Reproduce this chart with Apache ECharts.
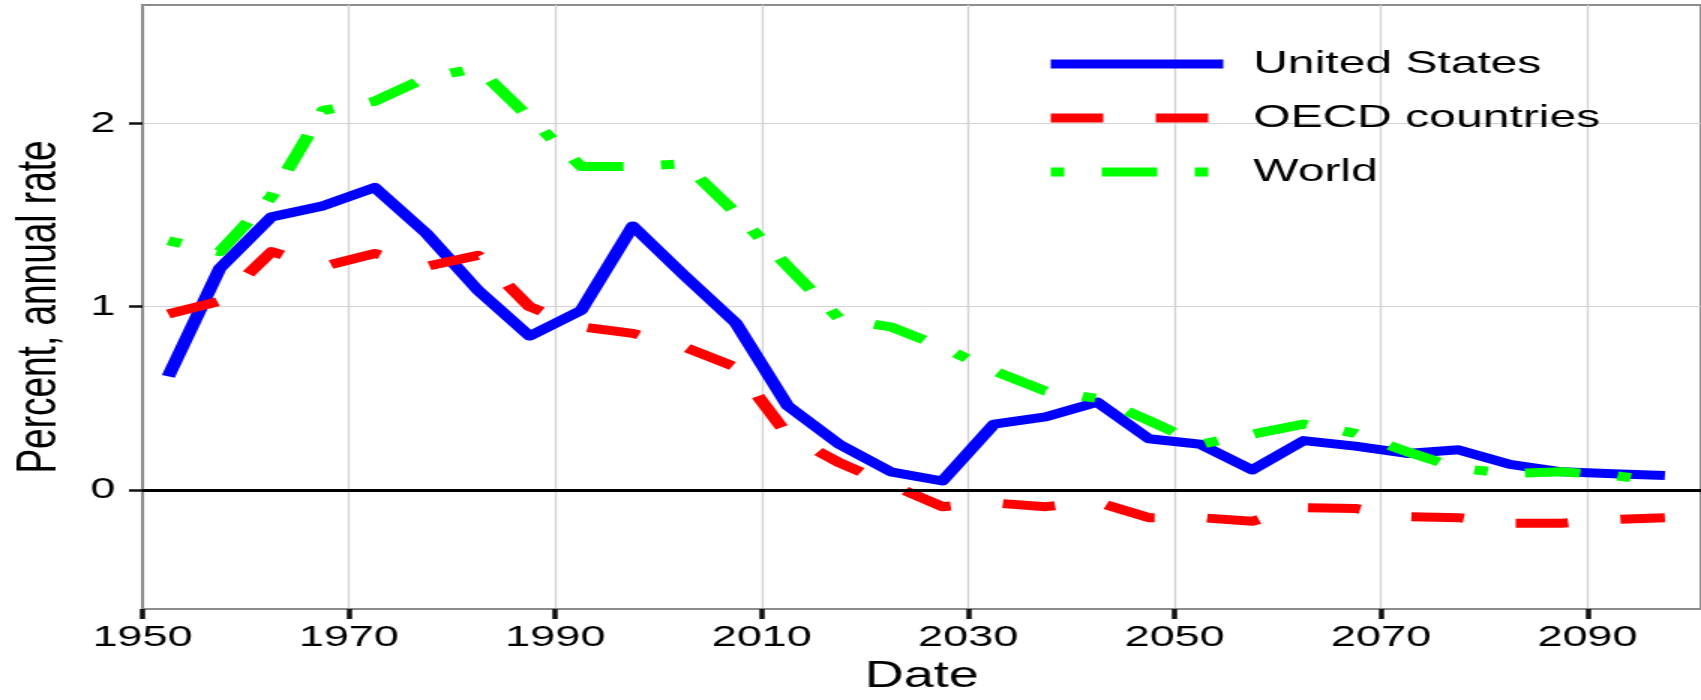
<!DOCTYPE html>
<html>
<head>
<meta charset="utf-8">
<title>Population growth rate</title>
<script src="https://cdn.jsdelivr.net/npm/echarts@6/dist/echarts.min.js"></script>
<style>
  html, body { margin: 0; padding: 0; background: #fff; overflow: hidden; }
  /* the source picture is stretched sideways (about 1.5x), so draw narrow and stretch */
  #chart { width: 1134px; height: 700px; transform: scaleX(1.5); transform-origin: 0 0; }
</style>
</head>
<body>
<div id="chart"></div>
<script>
  // mid-points of the 5-year periods
  const years = [1952.5, 1957.5, 1962.5, 1967.5, 1972.5, 1977.5, 1982.5, 1987.5, 1992.5, 1997.5,
                 2002.5, 2007.5, 2012.5, 2017.5, 2022.5, 2027.5, 2032.5, 2037.5, 2042.5, 2047.5,
                 2052.5, 2057.5, 2062.5, 2067.5, 2072.5, 2077.5, 2082.5, 2087.5, 2092.5, 2097.5]

  const unitedStates = [0.62, 1.21, 1.49, 1.55, 1.65, 1.40, 1.09, 0.84, 0.98, 1.44,
                        1.17, 0.91, 0.46, 0.25, 0.10, 0.05, 0.36, 0.40, 0.48, 0.28,
                        0.25, 0.11, 0.27, 0.24, 0.20, 0.22, 0.14, 0.10, 0.09, 0.08]

  const oecd = [0.96, 1.03, 1.30, 1.22, 1.29, 1.22, 1.28, 1.00, 0.89, 0.855,
                0.78, 0.67, 0.30, 0.15, 0.03, -0.09, -0.07, -0.09, -0.065, -0.15,
                -0.15, -0.17, -0.095, -0.10, -0.145, -0.15, -0.18, -0.18, -0.16, -0.15]

  const world = [1.36, 1.30, 1.60, 2.07, 2.12, 2.25, 2.30, 2.03, 1.765, 1.765,
                 1.78, 1.51, 1.22, 0.935, 0.89, 0.78, 0.65, 0.54, 0.50, 0.38,
                 0.25, 0.305, 0.36, 0.31, 0.21, 0.12, 0.09, 0.10, 0.08, 0.045]

  const xTicks = [1950, 1970, 1990, 2010, 2030, 2050, 2070, 2090]
  const yTicks = [0, 1, 2]

  const font = "'Liberation Sans', Arial, sans-serif"
  const gridColor = '#d2d2d2'

  const pairs = (vals) => years.map((y, i) => [y, vals[i]])

  const chart = echarts.init(document.getElementById('chart'))
  chart.setOption({
    animation: false,
    backgroundColor: '#fff',
    grid: {
      left: 90, right: -3, top: 5, bottom: 88,
      show: true, borderColor: '#8c8c8c', borderWidth: 2
    },
    legend: {
      left: 691, top: 43, orient: 'vertical',
      itemWidth: 115, itemHeight: 20, itemGap: 22,
      // no symbol in the key, only the thick line
      itemStyle: { opacity: 0 },
      lineStyle: { width: 9 },
      textStyle: { fontFamily: font, fontSize: 32, color: '#000', lineHeight: 32, padding: [0, 0, 0, 15] },
      data: ['United States', 'OECD countries', 'World']
    },
    xAxis: {
      type: 'value', min: 1950, max: 2101,
      name: 'Date', nameLocation: 'middle', nameGap: 50,
      nameTextStyle: { fontFamily: font, fontSize: 36, color: '#000' },
      axisLine: { show: true, onZero: false, lineStyle: { color: '#8c8c8c', width: 2 } },
      axisTick: { show: true, length: 10, customValues: xTicks, lineStyle: { color: '#111', width: 3.5 } },
      axisLabel: {
        customValues: xTicks, margin: 14, fontFamily: font, fontSize: 30, color: '#000',
        formatter: (v) => String(v)
      },
      splitLine: { show: true, lineStyle: { color: gridColor, width: 1.3 } }
    },
    yAxis: {
      type: 'value', min: -0.648, max: 2.645,
      name: 'Percent, annual rate', nameLocation: 'middle', nameGap: 50,
      nameTextStyle: { fontFamily: font, fontSize: 37, color: '#000' },
      axisLine: { show: true, onZero: false, lineStyle: { color: '#8c8c8c', width: 2 } },
      axisTick: { show: true, length: 9, customValues: yTicks, lineStyle: { color: '#111', width: 2.5 } },
      axisLabel: { customValues: yTicks, margin: 18, fontFamily: font, fontSize: 30, color: '#000' },
      splitLine: { show: true, lineStyle: { color: gridColor, width: 1 } }
    },
    series: [
      {
        name: 'United States', type: 'line', data: pairs(unitedStates),
        symbol: 'none', color: '#0000ff',
        lineStyle: { width: 9, color: '#0000ff', join: 'round' },
        markLine: {
          silent: true, symbol: 'none', label: { show: false },
          lineStyle: { color: '#000', width: 3, type: 'solid' },
          data: [{ yAxis: 0 }]
        }
      },
      {
        name: 'OECD countries', type: 'line', data: pairs(oecd),
        symbol: 'none', color: '#ff0000',
        lineStyle: { width: 9, color: '#ff0000', type: [35, 35], join: 'round' }
      },
      {
        name: 'World', type: 'line', data: pairs(world),
        symbol: 'none', color: '#00ff00',
        lineStyle: { width: 9, color: '#00ff00', type: [9, 25, 37, 25], join: 'round' }
      }
    ]
  })
</script>
</body>
</html>
